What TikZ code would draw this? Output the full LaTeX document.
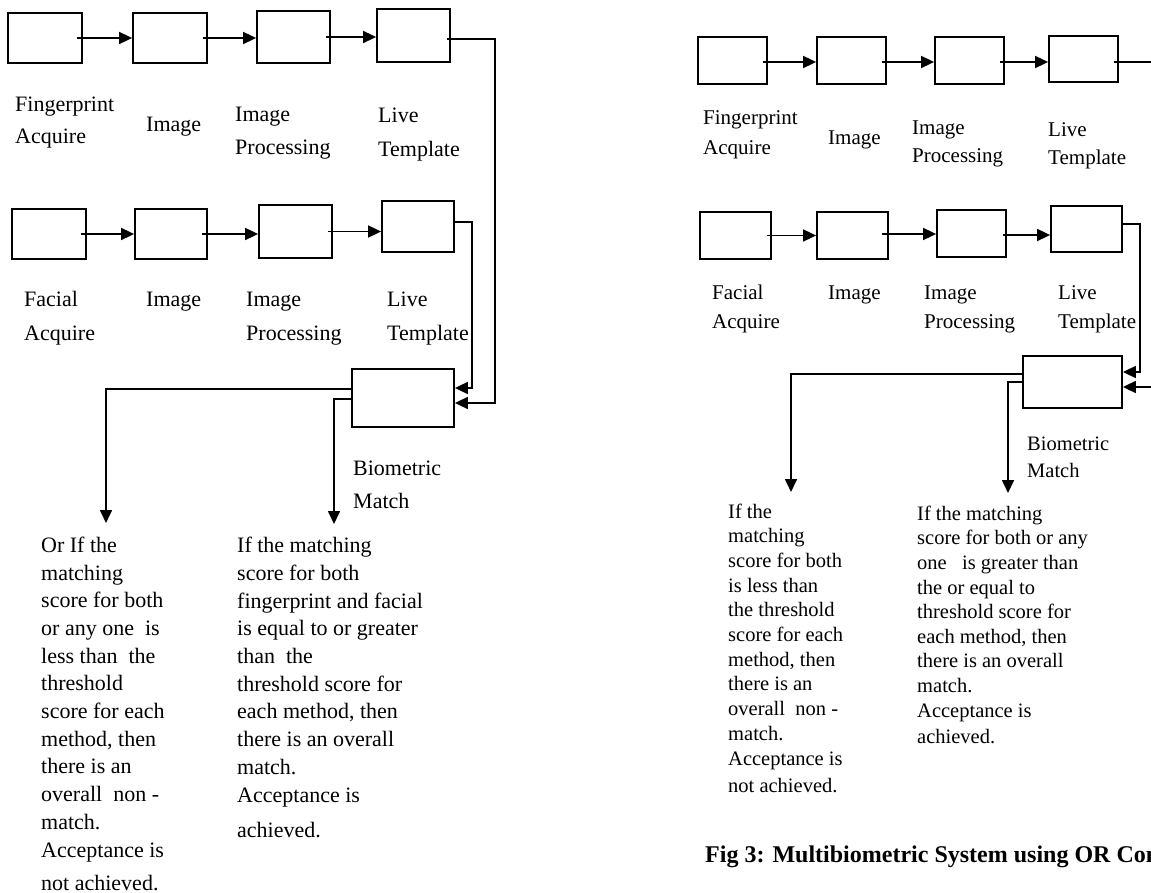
\documentclass[tikz,border=0pt]{standalone}
\usepackage{fontspec}
\setmainfont{Liberation Serif}
\usetikzlibrary{arrows.meta}
\begin{document}
\begin{tikzpicture}[x=1pt,y=-1pt,
  box/.style={draw, line width=1.8pt, inner sep=0pt},
  conn/.style={line width=1.7pt},
  arr/.style={conn, -{Triangle[length=13pt,width=12pt]}},
  txt/.style={anchor=base west, inner sep=0pt, align=left},
  capt/.style={anchor=base west, inner sep=0pt, font=\bfseries\fontsize{24}{29}\selectfont}
]
\useasboundingbox (0,0) rectangle (1151,893);
\clip (0,0) rectangle (1151,893);

% ---------------- left panel ----------------
\node[box, minimum width=74pt, minimum height=50pt] (L1) at (45,38) {};
\node[box, minimum width=74pt, minimum height=50pt] (L2) at (170,38) {};
\node[box, minimum width=73pt, minimum height=52pt] (L3) at (293.5,37) {};
\node[box, minimum width=73pt, minimum height=53pt] (L4) at (413.5,35.5) {};

\node[box, minimum width=74pt, minimum height=50pt] (M1) at (49,234) {};
\node[box, minimum width=72pt, minimum height=50pt] (M2) at (171,234) {};
\node[box, minimum width=73pt, minimum height=53pt] (M3) at (295.5,231.5) {};
\node[box, minimum width=72pt, minimum height=51pt] (M4) at (418,226.5) {};

\node[box, minimum width=102pt, minimum height=58pt] (B) at (403,398) {};

\draw[arr] ([xshift=-6pt]L1.east) -- (L1.east -| L2.west);
\draw[arr] ([xshift=-5pt]L2.east) -- (L2.east -| L3.west);
\draw[arr] ([xshift=-5pt]L3.east) -- (L3.east -| L4.west);

\draw[arr] ([xshift=-6pt]M1.east) -- (M1.east -| M2.west);
\draw[arr] ([xshift=-6pt]M2.east) -- (M2.east -| M3.west);
\draw[arr] ([xshift=-5pt]M3.east) -- (M3.east -| M4.west);

\coordinate (kL1) at (495,39);
\coordinate (kL2) at (495,403);
\draw[arr] ([xshift=-4pt,yshift=-3.5pt]L4.east) -- (kL1) -- (kL2) -- (kL2 -| B.east);

\coordinate (kM1) at (472,222);
\coordinate (kM2) at (472,388);
\draw[arr] ([xshift=-2pt,yshift=4.5pt]M4.east) -- (kM1) -- (kM2) -- (kM2 -| B.east);

\coordinate (kB1) at (106,389);
\coordinate (tL) at (106,523);
\draw[arr] (kB1 -| B.west) -- (kB1) -- (tL);
\coordinate (kB2) at (334,399);
\coordinate (tM) at (334,524);
\draw[arr] (kB2 -| B.west) -- (kB2) -- (tM);

% labels (anchor = baseline of the last line)
\node[txt, font=\fontsize{22}{32}\selectfont] (l1) at (15,144) {Fingerprint\\Acquire};
\node[txt, font=\fontsize{22}{33}\selectfont] (l2) at (146,132) {Image};
\node[txt, font=\fontsize{22}{33}\selectfont] (l3) at (235,155) {Image\\Processing};
\node[txt, font=\fontsize{22}{34}\selectfont] (l4) at (378,157) {Live\\Template};

\node[txt, font=\fontsize{22}{34}\selectfont] (m1) at (24,340) {Facial\\Acquire};
\node[txt, font=\fontsize{22}{33}\selectfont] (m2) at (146,306) {Image};
\node[txt, font=\fontsize{22}{34}\selectfont] (m3) at (246,340) {Image\\Processing};
\node[txt, font=\fontsize{22}{35}\selectfont] (m4) at (387,341) {Live\\Template};

\node[txt, font=\fontsize{22}{33}\selectfont] (bl) at (353,508) {Biometric\\Match};

\node[txt, font=\fontsize{22}{27.7}\selectfont] (TL) at (41,890) {Or If the\\ matching\\ score for both\\ or any one\ \ is\\ less than\ \ the\\ threshold\\ score for each\\ method, then\\ there is an\\ overall\ \ non -\\ match.\\ Acceptance is\\[5.3pt] not achieved.};
\node[txt, font=\fontsize{22}{27.7}\selectfont] (TM) at (237,837) {If the matching\\ score for both\\ fingerprint and facial\\ is equal to or greater\\ than\ \ the\\ threshold score for\\ each method, then\\ there is an overall\\ match.\\ Acceptance is\\[7.3pt] achieved.};

% ---------------- right panel ----------------
\node[box, minimum width=69pt, minimum height=47pt] (R1) at (732.5,60.5) {};
\node[box, minimum width=69pt, minimum height=47pt] (R2) at (851.5,60.5) {};
\node[box, minimum width=69pt, minimum height=47pt] (R3) at (969.5,60.5) {};
\node[box, minimum width=69pt, minimum height=46pt] (R4) at (1083.5,59) {};

\node[box, minimum width=71pt, minimum height=47pt] (S1) at (735.5,235.5) {};
\node[box, minimum width=71pt, minimum height=47pt] (S2) at (852.5,235.5) {};
\node[box, minimum width=69pt, minimum height=47pt] (S3) at (971.5,233.5) {};
\node[box, minimum width=71pt, minimum height=46pt] (S4) at (1086.5,229) {};

\node[box, minimum width=99pt, minimum height=52pt] (RB) at (1072.5,382) {};

\draw[arr] ([xshift=-5pt,yshift=-1.5pt]R1.east) -- ([yshift=-1.5pt]R1.east -| R2.west);
\draw[arr] ([xshift=-5pt,yshift=-1.5pt]R2.east) -- ([yshift=-1.5pt]R2.east -| R3.west);
\draw[arr] ([xshift=-5pt,yshift=-1.5pt]R3.east) -- ([yshift=-1.5pt]R3.east -| R4.west);
\coordinate (eR) at (1152,62);
\draw[conn] (eR -| R4.east) ++(-5pt,0) -- (eR);

\draw[arr] ([xshift=-5pt]S1.east) -- (S1.east -| S2.west);
\draw[arr] ([xshift=-7pt,yshift=1.5pt]S2.east) -- ([yshift=1.5pt]S2.east -| S3.west);
\draw[arr] ([xshift=-4pt,yshift=-1.5pt]S3.east) -- ([yshift=-1.5pt]S3.east -| S4.west);

\coordinate (kS1) at (1140,224);
\coordinate (kS2) at (1140,372);
\draw[arr] ([xshift=-2pt,yshift=5pt]S4.east) -- (kS1) -- (kS2) -- (kS2 -| RB.east);
\coordinate (eS) at (1152,387);
\draw[arr] (eS) -- (eS -| RB.east);

\coordinate (kR1) at (791,374);
\coordinate (tR1) at (791,492);
\draw[arr] (kR1 -| RB.west) -- (kR1) -- (tR1);
\coordinate (kR2) at (1008,382);
\coordinate (tR2) at (1008,493);
\draw[arr] (kR2 -| RB.west) -- (kR2) -- (tR2);

\node[txt, font=\fontsize{21}{30}\selectfont] (r1) at (703,155) {Fingerprint\\Acquire};
\node[txt, font=\fontsize{21}{30}\selectfont] (r2) at (828,145) {Image};
\node[txt, font=\fontsize{21}{28}\selectfont] (r3) at (912,163) {Image\\Processing};
\node[txt, font=\fontsize{21}{28}\selectfont] (r4) at (1048,165) {Live\\Template};

\node[txt, font=\fontsize{21}{29}\selectfont] (s1) at (712,328) {Facial\\Acquire};
\node[txt, font=\fontsize{21}{29}\selectfont] (s2) at (828,299) {Image};
\node[txt, font=\fontsize{21}{29}\selectfont] (s3) at (924,328) {Image\\Processing};
\node[txt, font=\fontsize{21}{29}\selectfont] (s4) at (1058,328) {Live\\Template};

\node[txt, font=\fontsize{20.5}{27}\selectfont] (br) at (1027,477) {Biometric\\Match};

\node[txt, font=\fontsize{20.5}{24.7}\selectfont] (TR1) at (728,792) {If the\\ matching\\ score for both\\ is less than\\ the threshold\\ score for each\\ method, then\\ there is an\\ overall\ \ non -\\ match.\\ Acceptance is\\[2.3pt] not achieved.};
\node[txt, font=\fontsize{20.5}{24.6}\selectfont] (TR2) at (917,743) {If the matching\\ score for both or any\\ one\ \ \ is greater than\\ the or equal to\\ threshold score for\\ each method, then\\ there is an overall\\ match.\\ Acceptance is\\[1.4pt] achieved.};

\node[capt] (cap) at (705,862) {Fig 3: Multibiometric System using OR Con};
\end{tikzpicture}
\end{document}
